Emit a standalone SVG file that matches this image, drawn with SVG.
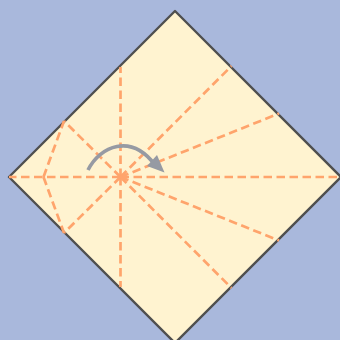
<svg xmlns="http://www.w3.org/2000/svg" width="340" height="340" viewBox="0 0 340 340">
<style>
.paper{fill:#fff3d0;stroke:#4f4f4f;stroke-width:2.4;stroke-linejoin:round}
.fold{stroke:#ffa46c;stroke-width:2.7;stroke-dasharray:8.500 4.500;fill:none}
.arc{stroke:#969aa3;stroke-width:3.6;fill:none}
.head{fill:#969aa3}
</style>
<rect width="340" height="340" fill="#a9b8dc"/>
<g id="paper"><polygon class="paper" points="175,11 341,177 175,343 9,177"/></g>
<g id="folds">
<line class="fold" x1="120.500" y1="177" x2="120.500" y2="67"/>
<line class="fold" x1="120.500" y1="177" x2="120.500" y2="287"/>
<line class="fold" x1="120.500" y1="177" x2="231.500" y2="66"/>
<line class="fold" x1="120.500" y1="177" x2="279" y2="113.500"/>
<line class="fold" x1="120.500" y1="177" x2="341" y2="177"/>
<line class="fold" x1="120.500" y1="177" x2="279" y2="240.500"/>
<line class="fold" x1="120.500" y1="177" x2="231.500" y2="288"/>
<line class="fold" x1="120.500" y1="177" x2="64" y2="121"/>
<line class="fold" x1="120.500" y1="177" x2="64" y2="233"/>
<line class="fold" x1="120.500" y1="177" x2="9" y2="177"/>
<line class="fold" x1="43.500" y1="177" x2="64" y2="121"/>
<line class="fold" x1="43.500" y1="177" x2="64" y2="233"/>
</g>
<g id="arrow">
<path class="arc" d="M88,170 C100,146 131,133 155,165"/>
<polygon class="head" points="164.500,172.500 147,166 157,155"/>
</g>
</svg>
